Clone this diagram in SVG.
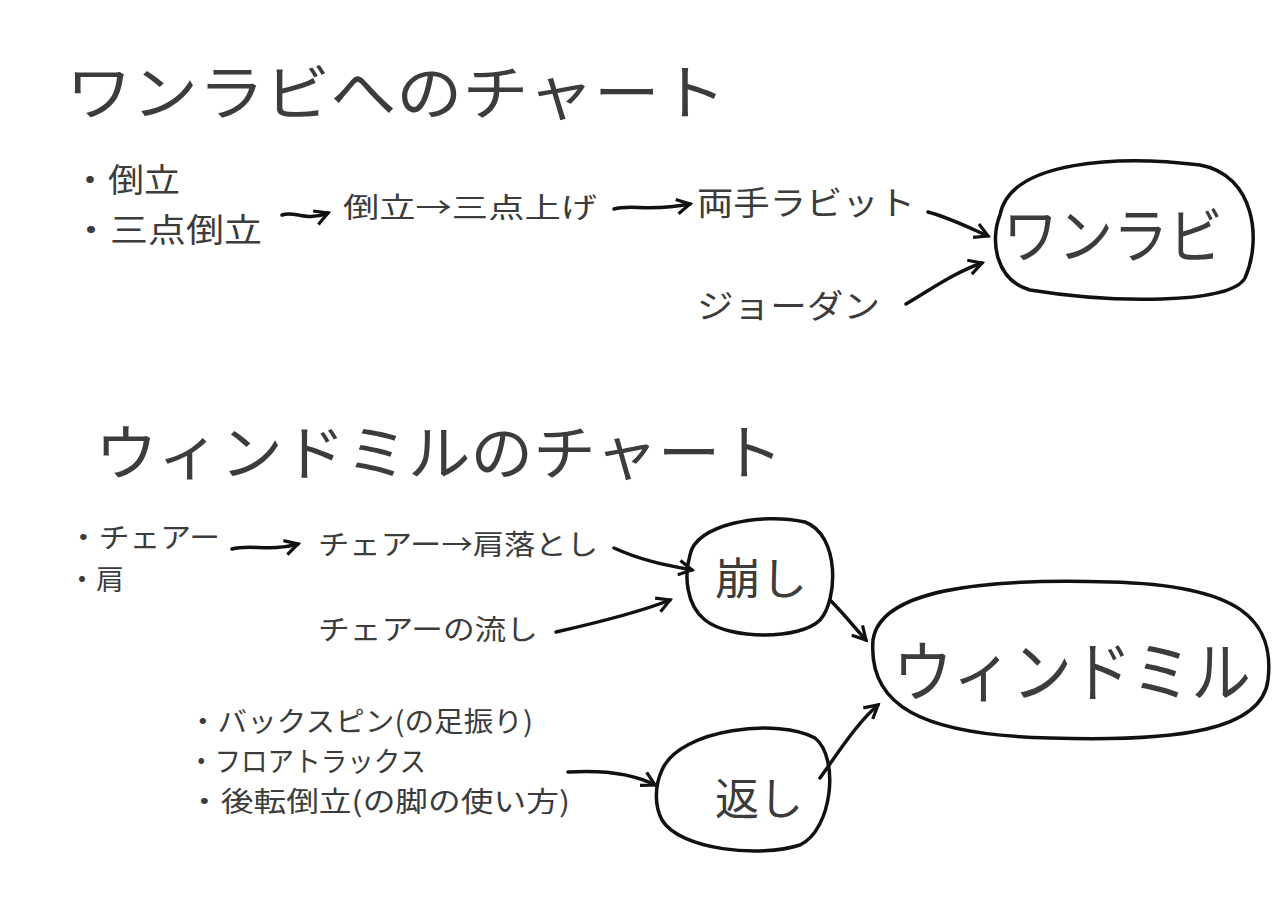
<svg xmlns="http://www.w3.org/2000/svg" width="1280" height="907" viewBox="0 0 1280 907">
<defs>
<style>
text{font-family:"Noto Sans CJK JP","Noto Sans",sans-serif;fill:#3c3c3c;font-weight:400}
.t{font-size:60px}
.m{font-size:33px}
.s{font-size:28px}
.line{fill:none;stroke:#111;stroke-width:3.5;stroke-linecap:round;stroke-linejoin:round}
</style>
<marker id="a" viewBox="0 0 12 12" refX="10" refY="6" markerWidth="5" markerHeight="5" orient="auto" markerUnits="strokeWidth"><path d="M1,1 L10,6 L1,11" fill="none" stroke="#111" stroke-width="2.2"/></marker>
</defs>
<rect width="1280" height="907" fill="#fff"/>
<text class="t" x="66" y="115" textLength="660" lengthAdjust="spacingAndGlyphs">ワンラビへのチャート</text>
<text class="t" x="95" y="475" textLength="688" lengthAdjust="spacingAndGlyphs">ウィンドミルのチャート</text>
<g id="n1"><text class="m" x="72" y="192" textLength="108" lengthAdjust="spacingAndGlyphs">・倒立</text><text class="m" x="72" y="242" textLength="190" lengthAdjust="spacingAndGlyphs">・三点倒立</text></g>
<g id="n2"><text class="s" x="343" y="218" textLength="254" lengthAdjust="spacingAndGlyphs">倒立→三点上げ</text></g>
<g id="n3"><text class="m" x="697" y="215" textLength="218" lengthAdjust="spacingAndGlyphs">両手ラビット</text></g>
<g id="n4"><text class="m" x="697" y="318" textLength="183" lengthAdjust="spacingAndGlyphs">ジョーダン</text></g>
<g id="n5"><path class="line" d="M1000,215 C1010,160 1120,155 1200,165 C1255,175 1262,240 1245,278 C1230,305 1110,303 1030,290 C995,280 990,240 1000,215"/><text x="1003" y="258" style="font-size:60px" textLength="220" lengthAdjust="spacingAndGlyphs">ワンラビ</text></g>
<g id="n6"><text class="s" x="68" y="548" textLength="152" lengthAdjust="spacingAndGlyphs">・チェアー</text><text class="s" x="68" y="590">・肩</text></g>
<g id="n7"><text class="s" x="318" y="555" textLength="280" lengthAdjust="spacingAndGlyphs">チェアー→肩落とし</text></g>
<g id="n8"><text class="s" x="318" y="640" textLength="220" lengthAdjust="spacingAndGlyphs">チェアーの流し</text></g>
<g id="n9"><path class="line" d="M690,555 C695,525 760,512 805,522 C840,535 838,600 820,620 C800,640 730,640 705,620 C686,605 684,575 690,555"/><text x="715" y="595" style="font-size:44px" textLength="92" lengthAdjust="spacingAndGlyphs">崩し</text></g>
<g id="n10"><path class="line" d="M873,640 C880,590 980,578 1110,582 C1240,585 1275,620 1268,680 C1262,730 1180,742 1050,738 C920,735 868,705 873,640"/><text x="893" y="696" style="font-size:66px" textLength="358" lengthAdjust="spacingAndGlyphs">ウィンドミル</text></g>
<g id="n11"><text class="s" x="188" y="732" textLength="345" lengthAdjust="spacingAndGlyphs">・バックスピン(の足振り)</text><text class="s" x="188" y="772" textLength="238" lengthAdjust="spacingAndGlyphs">・フロアトラックス</text><text class="s" x="188" y="812" textLength="382" lengthAdjust="spacingAndGlyphs">・後転倒立(の脚の使い方)</text></g>
<g id="n12"><path class="line" d="M662,770 C680,728 780,718 815,738 C840,758 832,830 800,845 C760,858 680,850 662,820 C654,805 655,785 662,770"/><text x="715" y="815" style="font-size:44px" textLength="88" lengthAdjust="spacingAndGlyphs">返し</text></g>
<g id="connectors">
<path class="line" marker-end="url(#a)" d="M282,215 C295,210 305,222 328,213"/>
<path class="line" marker-end="url(#a)" d="M614,209 C630,204 650,212 690,204"/>
<path class="line" marker-end="url(#a)" d="M928,212 C950,218 970,228 988,236"/>
<path class="line" marker-end="url(#a)" d="M906,304 C930,290 955,272 982,263"/>
<path class="line" marker-end="url(#a)" d="M232,549 C250,544 270,552 298,544"/>
<path class="line" marker-end="url(#a)" d="M614,548 C640,560 665,565 692,570"/>
<path class="line" marker-end="url(#a)" d="M556,632 C600,622 640,612 670,600"/>
<path class="line" marker-end="url(#a)" d="M830,600 C845,615 855,628 866,640"/>
<path class="line" marker-end="url(#a)" d="M820,778 C840,750 858,722 878,705"/>
<path class="line" marker-end="url(#a)" d="M568,772 C600,770 630,772 655,785"/>
</g>
</svg>
